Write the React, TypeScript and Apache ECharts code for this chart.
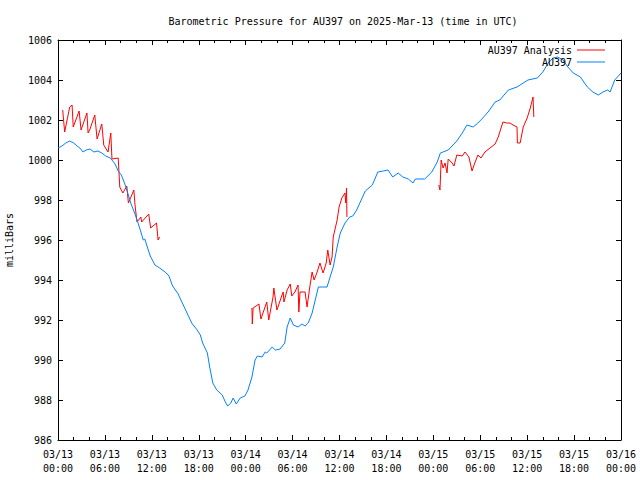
import React, { useEffect, useRef } from "react";
import * as echarts from "echarts";

// hours since 2025-03-13 00:00 UTC
const obsHours = [
  0, 0.5, 1.0, 1.5, 2.0, 2.6, 2.8, 3.2, 3.6, 4.1, 4.6, 5.1, 5.6, 6.1, 6.7, 6.9, 7.3, 7.7, 8.1, 8.6,
  9.0, 9.3, 9.8, 10.2, 10.6, 10.9, 11.1, 11.5, 11.8, 12.4, 13.0, 13.7, 14.2, 14.6, 15.0, 15.3, 15.9,
  16.5, 17.1, 17.8, 18.2, 18.5, 19.1, 19.4, 19.8, 20.3, 21.0, 21.4, 21.7, 22.1, 22.4, 22.8, 23.3,
  23.9, 24.3, 24.8, 25.2, 25.5, 26.1, 26.5, 26.7, 27.4, 27.8, 28.4, 28.6, 29.0, 29.3, 29.7, 30.1,
  30.7, 31.2, 31.6, 32.0, 32.5, 32.9, 33.3, 33.8, 34.4, 34.8, 35.2, 35.7, 36.1, 36.7, 37.3, 37.7,
  38.2, 38.6, 39.3, 40.2, 40.9, 41.6, 42.2, 42.8, 43.5, 44.1, 44.8, 45.4, 45.7, 46.9, 47.8, 48.5,
  48.9, 49.9, 51.0, 51.7, 52.3, 53.1, 53.7, 54.2, 55.0, 55.9, 56.5, 57.6, 58.7, 60.1, 61.3, 62.0,
  62.7, 63.3, 63.9, 64.6, 65.2, 65.9, 66.8, 67.7, 68.4, 69.1, 69.7, 70.3, 70.6, 71.2, 72.0,
];
const obsPressure = [
  1000.6, 1000.7, 1000.85, 1000.95, 1000.85, 1000.65, 1000.6, 1000.4, 1000.5, 1000.55, 1000.4,
  1000.45, 1000.35, 1000.2, 1000.1, 1000.0, 999.8, 999.45, 999.25, 998.75, 998.25, 997.85, 997.35,
  996.9, 996.4, 996.0, 996.05, 995.55, 995.2, 994.75, 994.6, 994.4, 994.2, 993.75, 993.5, 993.35,
  992.85, 992.35, 991.85, 991.5, 991.25, 990.85, 990.35, 989.65, 988.85, 988.5, 988.25, 987.9,
  987.7, 987.85, 988.1, 987.8, 988.1, 988.2, 988.5, 989.15, 990.0, 990.2, 990.15, 990.4, 990.35,
  990.65, 990.5, 990.55, 990.65, 990.85, 991.65, 992.1, 991.75, 991.65, 991.8, 991.7, 991.85,
  992.35, 993.0, 993.65, 993.65, 993.65, 994.15, 994.65, 995.65, 996.35, 996.85, 997.15, 997.2,
  997.5, 997.85, 998.45, 998.75, 999.4, 999.45, 999.5, 999.15, 999.35, 999.15, 999.05, 998.85,
  999.05, 999.05, 999.4, 999.9, 1000.35, 1000.5, 1000.95, 1001.35, 1001.75, 1001.65, 1001.85,
  1002.05, 1002.4, 1002.9, 1003.0, 1003.5, 1003.65, 1004.0, 1004.1, 1004.4, 1004.85, 1005.1,
  1005.15, 1005.0, 1004.65, 1004.35, 1004.15, 1003.65, 1003.4, 1003.25, 1003.4, 1003.5, 1003.4,
  1004.0, 1004.35,
];

// analysis segments (separated by gaps)
const anaHours1 = [
  0.6, 0.85, 1.5, 1.8, 1.95, 2.7, 2.95, 3.7, 3.85, 4.1, 4.7, 5.0, 5.6, 5.85, 6.4, 6.75, 6.9, 7.7,
  7.9, 8.3, 8.8, 9.0, 9.7, 9.85, 10.1, 10.6, 10.7, 11.6, 11.85, 12.6, 12.8, 13.0,
];
const anaPressure1 = [
  1002.5, 1001.4, 1002.65, 1002.75, 1001.65, 1002.45, 1001.5, 1002.35, 1001.35, 1001.55, 1002.25,
  1001.05, 1001.8, 1000.75, 1000.4, 1001.35, 1000.05, 1000.1, 998.65, 998.35, 998.7, 997.85,
  998.5, 997.75, 996.9, 997.15, 996.9, 997.3, 996.6, 996.85, 996.0, 996.15,
];
const anaHours2 = [
  24.8, 24.85, 24.95, 25.7, 25.95, 26.7, 26.95, 27.5, 27.6, 28.0, 28.65, 28.8, 28.9, 29.3, 29.7,
  29.9, 30.3, 30.7, 30.8, 30.95, 31.6, 31.85, 32.2, 32.5, 32.75, 33.1, 33.5, 33.9, 34.3, 34.5, 34.8,
  35.05, 35.2, 35.7, 35.95, 36.3, 36.7, 36.8, 36.9, 36.95,
];
const anaPressure2 = [
  992.6, 991.8, 992.6, 992.8, 992.05, 992.9, 992.0, 993.15, 993.6, 992.5, 993.25, 993.4, 992.9,
  993.5, 993.8, 993.2, 993.4, 993.75, 992.4, 993.4, 993.4, 992.65, 993.65, 994.4, 994.0, 994.35,
  994.85, 994.35, 994.85, 995.5, 994.75, 995.15, 996.15, 997.0, 997.65, 998.1, 998.35, 997.85,
  998.6, 997.15,
];
const anaHours3 = [
  48.7, 48.85, 49.0, 49.25, 49.5, 49.75, 49.9, 50.4, 50.65, 51.0, 51.7, 52.05, 52.55, 52.95, 53.3,
  53.7, 54.1, 54.6, 55.25, 55.9, 56.3, 56.9, 57.4, 57.8, 58.2, 58.7, 58.75, 59.1, 59.5, 60.0, 60.4,
  60.75, 60.85,
];
const anaPressure3 = [
  998.75, 998.5, 1000.0, 999.6, 999.85, 999.35, 1000.05, 999.85, 999.7, 1000.25, 1000.2, 1000.4,
  1000.15, 999.45, 999.85, 1000.25, 1000.1, 1000.4, 1000.6, 1000.8, 1001.15, 1001.9, 1001.85,
  1001.85, 1001.75, 1001.65, 1000.85, 1000.85, 1001.65, 1002.1, 1002.6, 1003.15, 1002.15,
];

const yTicks = { min: 986, max: 1006, step: 2 };
const xTicks = { min: 0, max: 72, step: 6, minorStep: 2 };

const FONT = "'DejaVu Sans Mono', 'Liberation Mono', monospace";

function pairs(xs: number[], ys: number[]) {
  return xs.map((x, i) => [x, ys[i]]);
}

function fmtX(v: number) {
  const day = 13 + Math.floor(v / 24);
  const hh = v % 24;
  return "03/" + String(day).padStart(2, "0") + "\n" + String(hh).padStart(2, "0") + ":00";
}

export default function App() {
  const ref = useRef<HTMLDivElement>(null);
  useEffect(() => {
    if (!ref.current) return;
    const chart = echarts.init(ref.current, null, { renderer: "svg" });
    const anaData: any[] = [
      ...pairs(anaHours1, anaPressure1),
      "-",
      ...pairs(anaHours2, anaPressure2),
      "-",
      ...pairs(anaHours3, anaPressure3),
    ];
    const xCommon = {
      type: "value" as const,
      min: xTicks.min,
      max: xTicks.max,
      interval: xTicks.step,
      axisLine: { show: true, onZero: false, lineStyle: { color: "#000", width: 1 } },
      axisTick: { show: true, inside: true, length: 5, lineStyle: { color: "#000" } },
      splitLine: { show: false },
    };
    const xMinor = {
      type: "value" as const,
      min: xTicks.min,
      max: xTicks.max,
      interval: xTicks.minorStep,
      axisLine: { show: false, onZero: false },
      axisTick: { show: true, inside: true, length: 3, lineStyle: { color: "#000" } },
      axisLabel: { show: false },
      splitLine: { show: false },
    };
    const yCommon = {
      type: "value" as const,
      min: yTicks.min,
      max: yTicks.max,
      interval: yTicks.step,
      axisLine: { show: true, onZero: false, lineStyle: { color: "#000", width: 1 } },
      axisTick: { show: true, inside: true, length: 5, lineStyle: { color: "#000" } },
      splitLine: { show: false },
    };
    chart.setOption({
      animation: false,
      backgroundColor: "#fff",
      title: {
        text: "Barometric Pressure for AU397 on 2025-Mar-13 (time in UTC)",
        left: 338,
        textAlign: "center",
        top: 11,
        textStyle: { fontFamily: FONT, fontSize: 10, fontWeight: "normal", color: "#000" },
      },
      legend: {
        orient: "vertical",
        right: 30,
        top: 40,
        align: "right",
        itemWidth: 28,
        itemHeight: 1,
        itemGap: 2,
        icon: "rect",
        textStyle: { fontFamily: FONT, fontSize: 10, color: "#000", padding: [0, 0, 0, 0] },
        data: ["AU397 Analysis", "AU397"],
      },
      grid: { left: 58, right: 19, top: 40, bottom: 40, outerBoundsMode: "none", containLabel: false },
      xAxis: [
        {
          ...xCommon,
          position: "bottom",
          axisLabel: {
            formatter: fmtX,
            fontFamily: FONT,
            fontSize: 10,
            color: "#000",
            lineHeight: 14,
            margin: 7,
          },
        },
        { ...xCommon, position: "top", axisLabel: { show: false } },
        { ...xMinor, position: "bottom" },
        { ...xMinor, position: "top" },
      ],
      yAxis: [
        {
          ...yCommon,
          position: "left",
          name: "milliBars",
          nameLocation: "middle",
          nameRotate: 90,
          nameGap: 44,
          nameTextStyle: { fontFamily: FONT, fontSize: 10, color: "#000" },
          axisLabel: {
            fontFamily: FONT,
            fontSize: 10,
            color: "#000",
            margin: 6,
            formatter: (v: number) => String(v),
          },
        },
        { ...yCommon, position: "right", axisLabel: { show: false } },
      ],
      series: [
        {
          name: "AU397 Analysis",
          type: "line",
          data: anaData,
          showSymbol: false,
          connectNulls: false,
          lineStyle: { color: "#ff0000", width: 1 },
          itemStyle: { color: "#ff0000" },
          xAxisIndex: 0,
          yAxisIndex: 0,
        },
        {
          name: "AU397",
          type: "line",
          data: pairs(obsHours, obsPressure),
          showSymbol: false,
          lineStyle: { color: "#0080ff", width: 1 },
          itemStyle: { color: "#0080ff" },
          xAxisIndex: 0,
          yAxisIndex: 0,
        },
      ],
    });
    return () => chart.dispose();
  }, []);
  return <div ref={ref} style={{ width: 640, height: 480, position: "fixed", left: 0, top: 0 }} />;
}
